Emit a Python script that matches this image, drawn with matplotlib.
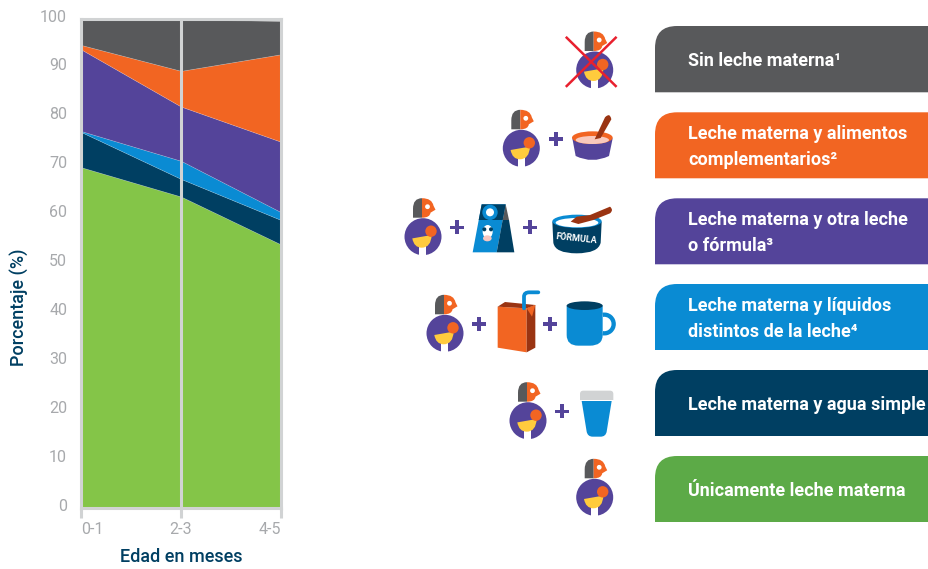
import numpy as np
import matplotlib
matplotlib.use("Agg")
from matplotlib import pyplot as plt
from matplotlib.patches import Circle, Ellipse, PathPatch, Polygon, Rectangle, Wedge
from matplotlib.path import Path
from matplotlib.transforms import ScaledTranslation

W, H = 929, 569

edades = ["0-1", "2-3", "4-5"]
unicamente = [69.7, 63.7, 53.9]
agua = [7.2, 3.6, 5.0]
liquidos = [0.2, 3.7, 1.6]
otra_leche = [16.7, 11.1, 14.4]
complementarios = [0.9, 7.3, 17.9]
sin_leche = [5.2, 10.5, 6.8]

GRIS = "#58595B"
NARANJA = "#F26522"
MORADO = "#54449A"
AZUL = "#0A8BD3"
MARINO = "#003F62"
VERDE_AREA = "#84C548"
VERDE = "#5CAA47"
LINEA = "#D1D3D4"
TICK = "#A7A9AC"
CAFE = "#9A3412"

categorias = [
    "Sin leche materna¹",
    "Leche materna y alimentos\ncomplementarios²",
    "Leche materna y otra leche\no fórmula³",
    "Leche materna y líquidos\ndistintos de la leche⁴",
    "Leche materna y agua simple",
    "Únicamente leche materna",
]
colores_cat = [GRIS, NARANJA, MORADO, AZUL, MARINO, VERDE]

plt.rcParams["font.family"] = ["Roboto", "DejaVu Sans"]

fig = plt.figure(figsize=(W / 100, H / 100), dpi=100)

# capa en pixeles para las etiquetas e iconos
capa = fig.add_axes([0, 0, 1, 1])
capa.set_xlim(0, W)
capa.set_ylim(H, 0)
capa.axis("off")

ax = fig.add_axes([81 / W, 1 - 508 / H, 200 / W, 489 / H])
x = np.arange(len(edades))
ax.stackplot(x, unicamente, agua, liquidos, otra_leche, complementarios, sin_leche,
             colors=[VERDE_AREA, MARINO, AZUL, MORADO, NARANJA, GRIS],
             edgecolor="#FFFFFF30", linewidth=0.5)
ax.set_xlim(0, 2)
ax.set_ylim(0, 100)
ax.axvline(1, color=LINEA, lw=2.2)
for s in ax.spines.values():
    s.set_color(LINEA)
    s.set_linewidth(2.2)
ax.set_xticks(x)
ax.set_xticklabels(edades, color=TICK, fontsize=11.5)
ax.get_xticklabels()[0].set_ha("left")
ax.get_xticklabels()[2].set_ha("right")
ax.set_yticks(range(0, 101, 10))
ax.tick_params(axis="x", length=7, width=2.2, color=LINEA, pad=3)
ax.tick_params(axis="y", length=0, pad=10, labelsize=11.5, labelcolor=TICK)
sube = ScaledTranslation(0, 2.5 / 72, fig.dpi_scale_trans)
for t in ax.get_yticklabels():
    t.set_transform(t.get_transform() + sube)
fig.text(20 / W, 1 - 307 / H, "Porcentaje (%)", color=MARINO, fontsize=13,
         fontweight="medium", rotation=90, ha="center", va="center")
fig.text(181 / W, 1 - 557 / H, "Edad en meses", color=MARINO, fontsize=13,
         fontweight="medium", ha="center", va="center")


def panel(y0, y1, color, r=22):
    x0, x1 = 655, W
    verts = [(x0, y1), (x0, y0 + r), (x0, y0), (x0 + r, y0), (x1, y0), (x1, y1), (x0, y1)]
    codes = [Path.MOVETO, Path.LINETO, Path.CURVE3, Path.CURVE3, Path.LINETO, Path.LINETO, Path.CLOSEPOLY]
    capa.add_patch(PathPatch(Path(verts, codes), fc=color, ec="none"))


def curva(puntos, color, z=2):
    # puntos con tercer valor van como pares de curva cuadratica
    verts = [puntos[0][:2]]
    codes = [Path.MOVETO]
    for p in puntos[1:]:
        verts.append(p[:2])
        codes.append(Path.LINETO if len(p) == 2 else Path.CURVE3)
    verts.append(puntos[0][:2])
    codes.append(Path.CLOSEPOLY)
    capa.add_patch(PathPatch(Path(verts, codes), fc=color, ec="none", zorder=z))


def escala(ox, oy):
    def z(a, b, *f):
        return (ox + a / 3, oy + b / 3) + f
    return z


def madre(cx, cy):
    capa.add_patch(Circle((cx, cy), 18.5, fc=MORADO, ec="none", zorder=2))
    capa.add_patch(Rectangle((cx - 3.5, cy + 8.5), 7, 11, fc="white", ec="none", zorder=3))
    # bebe
    curva([(cx - 10.7, cy + 1.7), (cx + 8.7, cy - 1.7), (cx + 8, cy + 11, 0), (cx - 1.3, cy + 11, 0),
           (cx - 9, cy + 11, 0), (cx - 10.7, cy + 1.7, 0)], "#FFCB3D", 4)
    capa.add_patch(Circle((cx + 8, cy - 5.5), 5.7, fc=NARANJA, ec="none", zorder=5))
    # cabeza
    curva([(cx - 10, cy - 19), (cx - 10, cy - 28), (cx - 10, cy - 38.5, 0), (cx - 1, cy - 38.5, 0),
           (cx - 1, cy - 19)], GRIS)
    curva([(cx - 1, cy - 38.5), (cx + 9, cy - 38.5, 0), (cx + 10.5, cy - 31, 0), (cx + 12.5, cy - 27),
           (cx + 7.5, cy - 24), (cx + 7, cy - 19, 0), (cx - 1, cy - 19, 0)], NARANJA)
    capa.add_patch(Circle((cx + 4.5, cy - 30), 2.4, fc="white", ec="none", zorder=3))


def mas(cx, cy):
    capa.add_patch(Rectangle((cx - 7, cy - 1.8), 14, 3.6, fc=MORADO, ec="none", zorder=3))
    capa.add_patch(Rectangle((cx - 1.8, cy - 7), 3.6, 14, fc=MORADO, ec="none", zorder=3))


def bol(ox, oy):
    z = escala(ox, oy)
    curva([z(547, 355), z(668, 355), z(657, 408), z(607, 432, 0), z(557, 408, 0)], MORADO)
    capa.add_patch(Ellipse(z(607, 353), 122 / 3, 38 / 3, fc=NARANJA, ec="none", zorder=3))
    capa.add_patch(Ellipse(z(607, 360), 100 / 3, 24 / 3, fc="#F9C9BC", ec="none", zorder=4))
    curva([z(614, 358), z(645, 292), z(660, 276, 0), z(664, 298, 0), z(632, 354)], CAFE, 5)


def carton(ox, oy):
    z = escala(ox, oy)
    capa.add_patch(Polygon([z(248, 697), z(275, 553), z(347, 553), z(320, 697)], fc=AZUL, ec="none", zorder=2))
    capa.add_patch(Polygon([z(320, 697), z(338, 600), z(357, 600), z(373, 697)], fc=MARINO, ec="none", zorder=2))
    capa.add_patch(Polygon([z(338, 600), z(347, 553), z(357, 600)], fc=GRIS, ec="none", zorder=2))
    capa.add_patch(Polygon([z(275, 553), z(347, 553), z(338, 600), z(266, 600)], fc=MARINO, ec="none", zorder=3))
    capa.add_patch(Circle(z(300, 577), 23 / 3, fc=AZUL, ec="none", zorder=4))
    capa.add_patch(Circle(z(300, 577), 12 / 3, fc="white", ec="none", zorder=5))
    capa.add_patch(Ellipse(z(293, 635), 30 / 3, 40 / 3, fc="white", ec="none", zorder=4))
    capa.add_patch(Ellipse(z(292, 655), 26 / 3, 18 / 3, fc="#F6C6C0", ec="none", zorder=5))
    capa.add_patch(Circle(z(283, 628), 6 / 3, fc=MARINO, ec="none", zorder=5))
    capa.add_patch(Circle(z(303, 628), 6 / 3, fc=MARINO, ec="none", zorder=5))


def formula(ox, oy):
    z = escala(ox, oy)
    curva([z(487, 605), z(635, 605), z(632, 668), z(625, 700, 0), z(560, 700, 0), z(495, 700, 0), z(490, 668, 0)], MARINO)
    capa.add_patch(Ellipse(z(561, 604), 148 / 3, 40 / 3, fc=AZUL, ec="none", zorder=3))
    capa.add_patch(Ellipse(z(561, 608), 128 / 3, 28 / 3, fc="white", ec="none", zorder=4))
    curva([z(542, 605), z(560, 590), z(600, 585), z(660, 560), z(672, 570, 0), z(660, 580, 0), z(610, 600), z(565, 612)], CAFE, 5)
    capa.text(*z(560, 655), "FÓRMULA", color="white", fontsize=6.5, fontweight="bold",
              ha="center", va="center", rotation=-6, zorder=6)


def jugo(ox, oy):
    z = escala(ox, oy)
    capa.add_patch(Polygon([z(263, 80), z(350, 85), z(350, 217), z(263, 203)], fc=NARANJA, ec="none", zorder=2))
    capa.add_patch(Polygon([z(350, 85), z(376, 75), z(376, 203), z(350, 217)], fc=CAFE, ec="none", zorder=2))
    capa.add_patch(Polygon([z(263, 80), z(285, 66), z(376, 75), z(350, 85)], fc=CAFE, ec="none", zorder=2))
    capa.add_patch(Polygon([z(350, 85), z(376, 75), z(366, 110)], fc=NARANJA, ec="none", zorder=3))
    t = [z(342, 85), z(342, 50), z(342, 37), z(358, 37), z(385, 37)]
    cod = [Path.MOVETO, Path.LINETO, Path.CURVE3, Path.CURVE3, Path.LINETO]
    capa.add_patch(PathPatch(Path(t, cod), fc="none", ec=AZUL, lw=2.7, capstyle="round", zorder=4))


def taza(ox, oy):
    z = escala(ox, oy)
    capa.add_patch(Wedge(z(583, 132), 33 / 3 + 0.5, -100, 100, width=13 / 3, fc=AZUL, ec="none", zorder=2))
    curva([z(470, 77), z(578, 77), z(578, 165), z(578, 197, 0), z(540, 197, 0), z(505, 197),
           z(470, 197, 0), z(470, 165, 0)], AZUL)
    capa.add_patch(Ellipse(z(524, 77), 108 / 3, 26 / 3, fc=MARINO, ec="none", zorder=3))


def vaso(ox, oy):
    z = escala(ox, oy)
    curva([z(510, 360), z(510, 342), z(510, 332, 0), z(520, 332, 0), z(600, 332),
           z(610, 332, 0), z(610, 342, 0), z(610, 360)], LINEA)
    curva([z(515, 363), z(605, 363), z(590, 455), z(587, 470, 0), z(572, 470, 0), z(548, 470),
           z(533, 470, 0), z(530, 455, 0)], AZUL)


limites = [(26, 92.3), (112.3, 178.3), (198.3, 264.3), (284, 350), (370, 436), (456, 522)]
for (y0, y1), color, nombre in zip(limites, colores_cat, categorias):
    panel(y0, y1, color)
    capa.text(688, (y0 + y1) / 2 + 2, nombre, color="white", fontsize=13, fontweight="bold",
              ha="left", va="center", linespacing=1.55, zorder=6)

for cx, cy in [(594.7, 70), (521.3, 148.3), (423, 236.7), (445, 333.3), (528, 420.7), (594.7, 497.3)]:
    madre(cx, cy)
for cx, cy in [(555.7, 139), (457.3, 227.3), (530.3, 227.3), (479.3, 324), (550.3, 324), (562.3, 411.3)]:
    mas(cx, cy)

capa.plot([566.7, 615.7], [37.7, 86], color="#E8202E", lw=1.8, zorder=7)
capa.plot([615.7, 566.7], [37.7, 86], color="#E8202E", lw=1.8, zorder=7)

bol(390, 20)
carton(390, 20)
formula(390, 20)
jugo(410, 280)
taza(410, 280)
vaso(410, 280)

fig.savefig("out.png", dpi=100)
